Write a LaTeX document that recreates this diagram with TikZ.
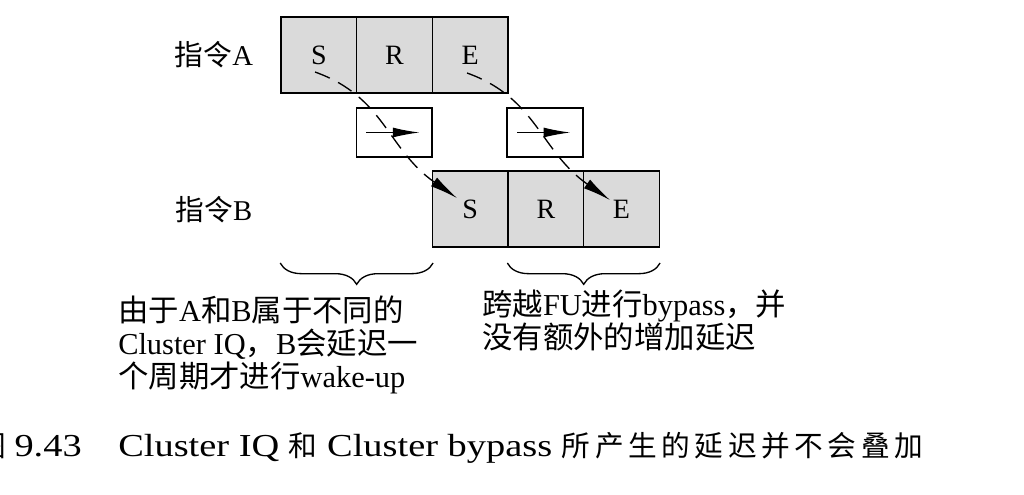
\documentclass[tikz,border=0pt]{standalone}
\usepackage{fontspec}
\setmainfont{Liberation Serif}
\newfontfamily\cjk{Noto Sans CJK SC}
\newfontfamily\cjkwide[LetterSpace=16]{Noto Sans CJK SC}
\newfontfamily\capfont[FakeStretch=1.2]{Liberation Serif}
\usetikzlibrary{arrows.meta,decorations.pathreplacing}
\definecolor{cellgray}{HTML}{DADADA}
\newcommand{\capzh}[1]{{\cjkwide\fontsize{21.5}{24}\selectfont #1}}

\begin{document}
\begin{tikzpicture}[x=0.75pt,y=0.75pt,yscale=-1,xscale=1,
    cell/.style={draw, line width=1.1pt, fill=cellgray, minimum width=56.75pt, minimum height=57pt, inner sep=0pt, font=\fontsize{21}{21}\selectfont},
    fubox/.style={draw, line width=1.1pt, fill=white, minimum width=56.75pt, minimum height=36.75pt, inner sep=0pt},
    fwd/.style={line width=0.9pt, -{Latex[length=20pt,width=7.5pt]}},
    link/.style={line width=1pt, dash pattern=on 12pt off 7pt, -{Latex[length=21pt,width=8pt]}},
    brc/.style={line width=1pt, decorate, decoration={brace, mirror, amplitude=16pt}},
    note/.style={anchor=north west, inner sep=0pt, align=left, font=\fontsize{22.8}{24.75}\selectfont}]
    \useasboundingbox (0,0) rectangle (1024,494);
    
    % Text Node
    \node[inner sep=0pt, font=\fontsize{21.5}{21.5}\selectfont] (labA) at (214,55) {{\cjk 指令}A};
    % Text Node
    \node[inner sep=0pt, font=\fontsize{21.5}{21.5}\selectfont] (labB) at (214,210) {{\cjk 指令}B};
    
    %instruction A
    \node[cell] (aS) at (318.8,55) {S};
    \node[cell] (aR) at (394.5,55) {R};
    \node[cell] (aE) at (470.2,55) {E};
    %instruction B
    \node[cell] (bS) at (470.2,209) {S};
    \node[cell] (bR) at (545.9,209) {R};
    \node[cell] (bE) at (621.5,209) {E};
    
    %bypass boxes
    \node[fubox] (fu1) at (394.2,132.5) {};
    \node[fubox] (fu2) at (545,132.5) {};
    \draw[fwd, shorten <=8pt, shorten >=10pt] (fu1.west) -- (fu1.east);
    \draw[fwd, shorten <=8pt, shorten >=10pt] (fu2.west) -- (fu2.east);
    
    %wake-up and bypass paths
    \coordinate (sA) at (315,72);
    \coordinate (sB) at (457,198);
    \coordinate (eA) at (467,73);
    \coordinate (eB) at (610,200);
    \draw[link] (sA) .. controls +(70,25) and +(-70,-49) .. (sB);
    \draw[link] (eA) .. controls +(70,25) and +(-70,-49) .. (eB);
    
    %Braces
    \draw[brc] (aS.west |- 0,263) -- (aR.east |- 0,263);
    \draw[brc] (bR.west |- 0,263) -- (bE.east |- 0,263);
    
    % Text Node
    \node[note] (note1) at (118,296) {{\cjk 由于}A{\cjk 和}B{\cjk 属于不同的}\\Cluster IQ{\cjk ，}B{\cjk 会延迟一}\\{\cjk 个周期才进行}wake-up};
    % Text Node
    \node[note] (note2) at (482,290) {{\cjk 跨越}FU{\cjk 进行}bypass{\cjk ，并}\\{\cjk 没有额外的增加延迟}};
    
    % Caption
    \node[anchor=base east, inner sep=0pt, font=\capfont\fontsize{24}{24}\selectfont] (capno) at (82,456) {\capzh{图}\hspace{6pt}9.43};
    \node[anchor=base west, inner sep=0pt, font=\capfont\fontsize{24}{24}\selectfont] (captxt) at (118,456) {Cluster IQ \capzh{和} Cluster bypass \capzh{所产生的延迟并不会叠加}};
\end{tikzpicture}
\end{document}
